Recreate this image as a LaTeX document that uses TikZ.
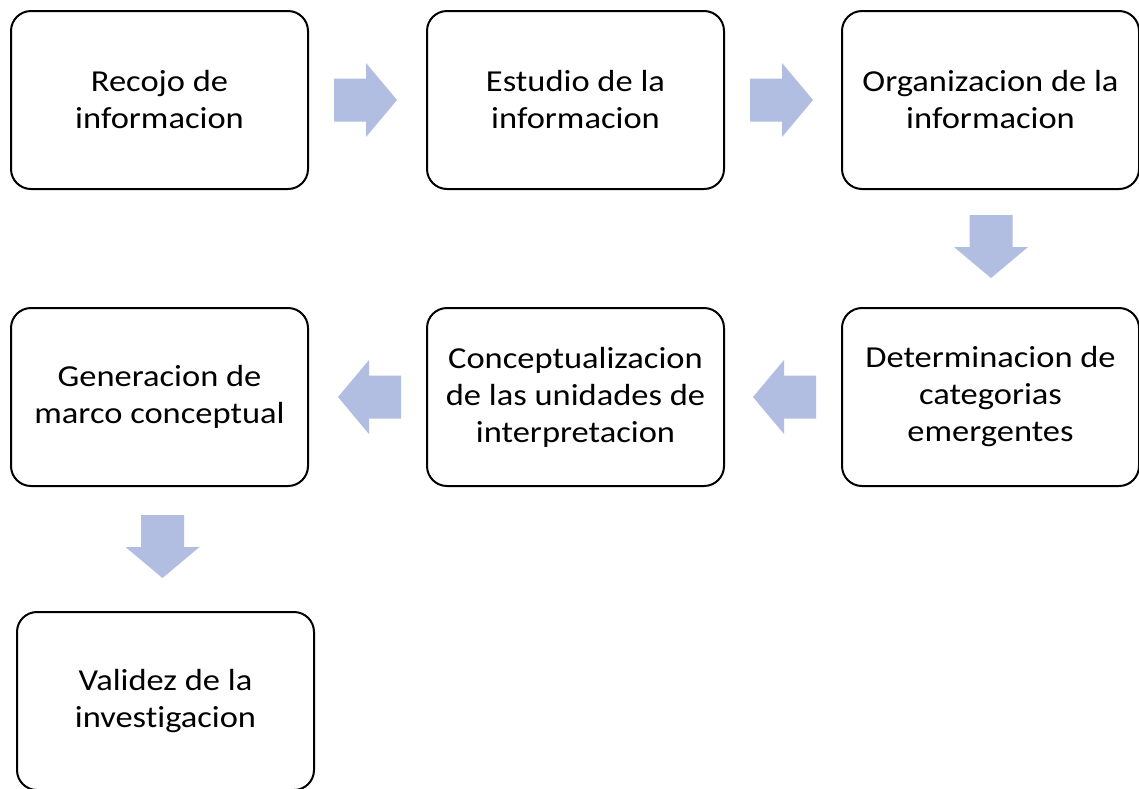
\documentclass[tikz,border=0pt]{standalone}
\usepackage{fontspec}
\setmainfont{Carlito}[FakeStretch=1.13, Ligatures=NoCommon]
\definecolor{arrowfill}{RGB}{178,190,225}
\tikzset{
  stepbox/.style={draw=black, line width=2pt, rounded corners=20pt, fill=white,
    minimum width=297pt, minimum height=178pt, inner sep=0pt, align=center,
    font=\fontsize{30.5}{37}\selectfont, text=black},
  blockarrow/.pic={\fill[arrowfill] (0,-21.5) -- (32,-21.5) -- (32,-37) -- (63,0) -- (32,37) -- (32,21.5) -- (0,21.5) -- cycle;}
}
\begin{document}
\begin{tikzpicture}[x=1pt,y=-1pt]
\useasboundingbox (0,0) rectangle (1139,788);
\fill[white] (0,0) rectangle (1139,788);
\node[stepbox] (b1) at (159.5,100) {Recojo de\\informacion};
\node[stepbox] (b2) at (575.5,100) {Estudio de la\\informacion};
\node[stepbox] (b3) at (990.5,100) {Organizacion de la\\informacion};
\node[stepbox] (b6) at (990.5,397) {Determinacion de\\categorias\\emergentes};
\node[stepbox] (b5) at (575.5,397) {Conceptualizacion\\de las unidades de\\interpretacion};
\node[stepbox] (b4) at (159.5,397) {Generacion de\\marco conceptual};
\node[stepbox] (b7) at (165.5,701) {Validez de la\\investigacion};
\pic at (334,100) {blockarrow};
\pic at (750,100) {blockarrow};
\pic[rotate=-90] at (991,215) {blockarrow};
\pic[rotate=180] at (816,397) {blockarrow};
\pic[rotate=180] at (401,397) {blockarrow};
\pic[rotate=-90] at (162.5,515) {blockarrow};
\end{tikzpicture}
\end{document}
